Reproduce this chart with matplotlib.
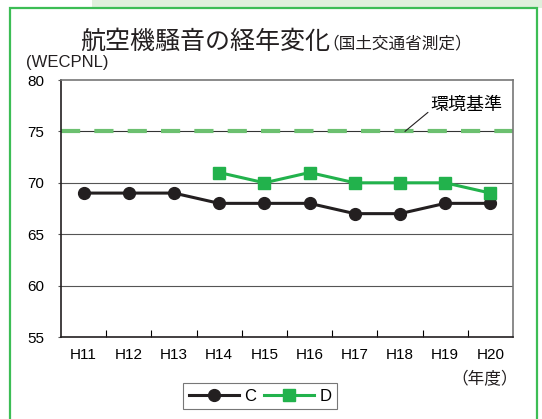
import numpy as np
import matplotlib
matplotlib.use('Agg')
import matplotlib.pyplot as plt
from matplotlib.patches import Rectangle

plt.rcParams['font.family'] = ['Liberation Sans', 'Noto Sans CJK JP', 'DejaVu Sans']

# 年度と測定値
years = ['H11', 'H12', 'H13', 'H14', 'H15', 'H16', 'H17', 'H18', 'H19', 'H20']
c_vals = [69, 69, 69, 68, 68, 68, 67, 67, 68, 68]
d_vals = [np.nan, np.nan, np.nan, 71, 70, 71, 70, 70, 70, 69]
standard = 75
y_ticks = [55, 60, 65, 70, 75, 80]

W, H = 542, 419
fig = plt.figure(figsize=(W / 100, H / 100), dpi=100)

def px(x, y):
    return x / W, 1 - y / H

# 外枠
fig.patches.append(Rectangle(px(92, 8), (W - 92) / W, 8 / H, transform=fig.transFigure,
                             facecolor='#dff0dc', edgecolor='none', zorder=0))
fig.patches.append(Rectangle(px(10, 430), 527 / W, 422 / H, transform=fig.transFigure,
                             facecolor='none', edgecolor='#3cbd55', linewidth=1.6, zorder=0))

left, top, right, bottom = 61, 80, 513, 337
ax = fig.add_axes([left / W, 1 - bottom / H, (right - left) / W, (bottom - top) / H])

x = np.arange(len(years))
ax.set_xlim(-0.5, len(years) - 0.5)
ax.set_ylim(55, 80)

# 目盛り線
for v in [60, 65, 70]:
    ax.axhline(v, color='#555555', linewidth=0.8, zorder=1)
ax.axhline(standard, color='#333333', linewidth=0.8, zorder=1)
ax.axhline(standard, color='#6cc070', linewidth=3, linestyle=(0, (4.6, 3.4)), zorder=2)

ax.plot(x, c_vals, color='#231f20', marker='o', markersize=8.5, linewidth=2.2, label='C', zorder=3)
ax.plot(x, d_vals, color='#22b24c', marker='s', markersize=8.5, linewidth=2.2, label='D', zorder=4)

ax.set_yticks(y_ticks)
ax.set_yticklabels([str(v) for v in y_ticks], fontsize=11, ha='left', va='center_baseline')
ax.tick_params(axis='y', length=2, pad=22.5, width=0.8, color='#555555')
ax.set_xticks(x)
ax.set_xticklabels(years, fontsize=11)
ax.tick_params(axis='x', which='major', length=0, pad=8)
ax.set_xticks(np.arange(0.5, len(years) - 1, 1), minor=True)
ax.tick_params(axis='x', which='minor', direction='in', length=5, width=0.8)

for s in ax.spines.values():
    s.set_linewidth(1.2)
    s.set_color('#231f20')
ax.spines['right'].set_color('#777777')
ax.spines['top'].set_color('#777777')

# 環境基準ラベル
ax.annotate('環境基準', xy=(7.11, standard), xytext=(7.68, 77.6),
            fontsize=13, family=['Noto Sans CJK JP'], va='center', ha='left',
            arrowprops=dict(arrowstyle='-', color='#231f20', linewidth=0.8,
                            shrinkA=0, shrinkB=0, relpos=(0, 0.2)))

fig.text(*px(80, 42), '航空機騒音の経年変化', fontsize=18, family=['Noto Sans CJK JP'],
         va='center', ha='left', color='#231f20')
fig.text(*px(322, 44), '（国土交通省測定）', fontsize=12, family=['Noto Sans CJK JP'],
         va='center', ha='left', color='#231f20')
fig.text(*px(26, 63), '(WECPNL)', fontsize=12, va='center', ha='left', color='#231f20')
fig.text(*px(451, 380), '（年度）', fontsize=12, family=['Noto Sans CJK JP'],
         va='center', ha='left', color='#231f20')

leg = ax.legend(loc='center', bbox_to_anchor=(px(260, 396)), bbox_transform=fig.transFigure,
                ncol=2, fontsize=12, handlelength=3.0, columnspacing=0.5, handletextpad=0.3,
                fancybox=False, edgecolor='#555555', borderpad=0.35)
leg.get_frame().set_linewidth(0.8)

fig.savefig('out.png', dpi=100)
